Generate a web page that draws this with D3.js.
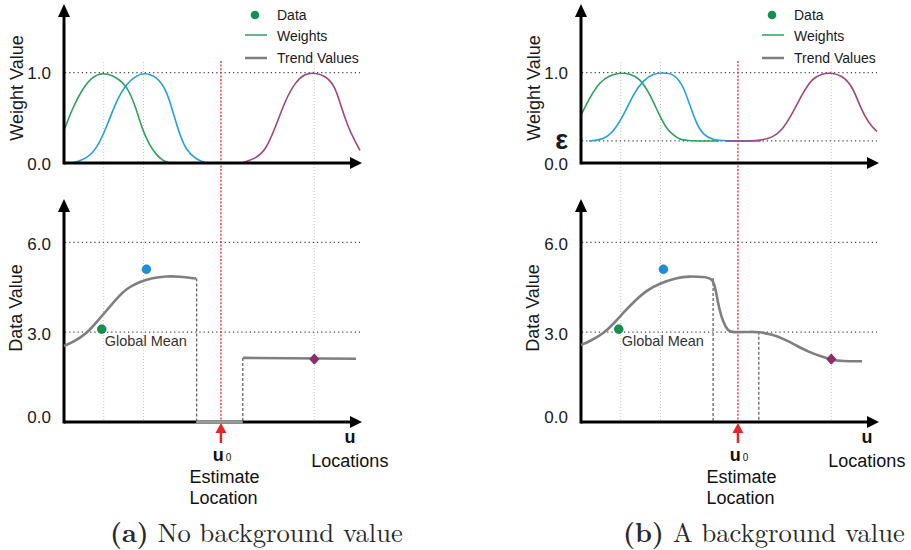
<!DOCTYPE html>
<html>
<head>
<meta charset="utf-8">
<script src="https://cdn.jsdelivr.net/npm/d3@7/dist/d3.min.js"></script>
<style>
  html, body { margin: 0; padding: 0; background: #fff; }
  svg { display: block; }
</style>
</head>
<body>
<svg id="chart" width="911" height="550" font-family="Liberation Sans, Arial, sans-serif"></svg>
<script>
// ---------------- DATA ----------------
const epsilon = 0.244;
const u0 = 158;                         // estimate location
const kernelCenters = [40, 80, 252];    // locations of data (grey guide lines)
const dataU = [38, 83, 252];
const dataV = [3.1, 5.1, 2.1];
const dataColors = ["#12924b", "#1b90d8", "#8e2d6c"];
const curveColors = ["#2ca25c", "#22a0e0", "#a04388"];
const weightTicks = [0, 1];
const dataTicks = [0, 3, 6];

// (a) weights, no background
const greenU_a = [0, 9, 19, 29, 39, 49, 59, 66, 73, 79, 86, 93, 99, 106];
const greenW_a = [0.36, 0.62, 0.83, 0.96, 1.0, 0.97, 0.9, 0.79, 0.59, 0.365, 0.2, 0.09, 0.03, 0];
const blueU_a = [9, 23, 33, 43, 53, 63, 73, 81, 93, 103, 109, 116, 123, 133, 143];
const blueW_a = [0, 0.05, 0.16, 0.4, 0.7, 0.88, 0.97, 1.0, 0.96, 0.81, 0.59, 0.33, 0.14, 0.04, 0];
const purpleU_a = [179, 193, 203, 213, 223, 233, 243, 251, 263, 273, 279, 286, 293, 298];
const purpleW_a = [0, 0.05, 0.14, 0.4, 0.7, 0.9, 0.99, 1.0, 0.97, 0.85, 0.62, 0.4, 0.24, 0.14];

// (b) weights, with background epsilon
const greenU_b = [0, 9, 19, 29, 39, 49, 59, 69, 78, 86, 93, 99, 109, 139];
const greenW_b = [0.53, 0.73, 0.9, 0.97, 1.0, 0.99, 0.94, 0.77, 0.55, 0.38, 0.31, 0.26, 0.244, 0.244];
const blueU_b = [8, 23, 33, 43, 53, 63, 73, 81, 94, 103, 109, 116, 123, 133, 143, 181];
const blueW_b = [0.244, 0.26, 0.35, 0.53, 0.77, 0.92, 0.99, 1.0, 0.99, 0.85, 0.66, 0.44, 0.31, 0.255, 0.244, 0.244];
const purpleU_b = [146, 179, 193, 203, 213, 223, 233, 243, 251, 263, 273, 279, 286, 293, 298];
const purpleW_b = [0.244, 0.244, 0.28, 0.37, 0.55, 0.77, 0.94, 0.99, 1.0, 0.97, 0.85, 0.68, 0.51, 0.4, 0.35];

// (a) trend values
const trendU_a = [0, 9, 23, 33, 43, 53, 63, 76, 89, 103, 116, 133];
const trendV_a = [2.54, 2.66, 2.96, 3.34, 3.73, 4.12, 4.46, 4.68, 4.81, 4.87, 4.86, 4.79];
const stepU_a = [180, 294];
const stepV_a = [2.14, 2.11];
const gapU_a = [133, 180];

// (b) trend values
const trendU_b = [0, 9, 23, 33, 43, 53, 66, 79, 96, 109, 123, 133, 136, 139, 143, 148, 153, 169, 179, 193, 203, 216, 229, 243, 253, 263, 283];
const trendV_b = [2.57, 2.7, 2.96, 3.29, 3.66, 4.01, 4.4, 4.62, 4.81, 4.87, 4.84, 4.81, 4.34, 3.79, 3.34, 3.03, 2.99, 3.01, 3.01, 2.92, 2.79, 2.57, 2.34, 2.18, 2.07, 2.03, 2.03];
const dashU_b = [133, 179];

const legendLabels = ["Data", "Weights", "Trend Values"];
const captions = [["(a)", " No background value"], ["(b)", " A background value"]];

// ---------------- DRAW ----------------
const svg = d3.select("#chart");
const zip = (us, vs) => us.map((u, i) => [u, vs[i]]);

function drawPanel(offsetX, cfg) {
  const g = svg.append("g").attr("transform", `translate(${offsetX},0)`);
  const x = d3.scaleLinear().domain([0, 300]).range([64, 362]);
  const yW = d3.scaleLinear().domain([0, 1]).range([163, 72.7]);
  const yD = d3.scaleLinear().domain([0, 6]).range([422, 242.3]);

  // grey vertical guides at data locations
  g.selectAll(".guide").data(kernelCenters).join("line")
    .attr("x1", d => x(d)).attr("x2", d => x(d))
    .attr("y1", 62).attr("y2", 422)
    .attr("stroke", "#c8c8c8").attr("stroke-width", 1).attr("stroke-dasharray", "1,2");

  // dotted horizontal reference lines
  const topRefs = cfg.eps ? [1, epsilon] : [1];
  g.selectAll(".wref").data(topRefs).join("line")
    .attr("x1", x(1)).attr("x2", x(298))
    .attr("y1", d => yW(d)).attr("y2", d => yW(d))
    .attr("stroke", "#444").attr("stroke-width", 1.2).attr("stroke-dasharray", "1.2,3");
  g.selectAll(".dref").data([3, 6]).join("line")
    .attr("x1", x(1)).attr("x2", x(298))
    .attr("y1", d => yD(d)).attr("y2", d => yD(d))
    .attr("stroke", "#444").attr("stroke-width", 1.2).attr("stroke-dasharray", "1.2,3");

  // red estimate line
  g.append("line").attr("x1", x(u0)).attr("x2", x(u0)).attr("y1", 61).attr("y2", 422)
    .attr("stroke", "#e3262b").attr("stroke-width", 1.3).attr("stroke-dasharray", "2,1.6");

  // weight curves
  const wLine = d3.line().x(d => x(d[0])).y(d => yW(d[1])).curve(d3.curveBasis);
  cfg.weights.forEach((w, i) => {
    g.append("path").attr("d", wLine(zip(w[0], w[1])))
      .attr("fill", "none").attr("stroke", curveColors[i]).attr("stroke-width", 1.6);
  });

  const tLine = d3.line().x(d => x(d[0])).y(d => yD(d[1])).curve(d3.curveBasis);
  cfg.dashes.forEach(dd => {
    g.append("line").attr("x1", x(dd[0])).attr("x2", x(dd[0]))
      .attr("y1", yD(dd[1])).attr("y2", yD(0))
      .attr("stroke", "#666").attr("stroke-width", 1.3).attr("stroke-dasharray", "3,2");
  });

  // axes lines (thick black with arrows)
  const axisStroke = "#000";
  function arrowUp(xp, yTip) {
    g.append("path").attr("d", `M${xp},${yTip} L${xp - 6},${yTip + 13} L${xp + 6},${yTip + 13} Z`).attr("fill", axisStroke);
  }
  function arrowRight(xTip, yp) {
    g.append("path").attr("d", `M${xTip},${yp} L${xTip - 12},${yp - 6} L${xTip - 12},${yp + 6} Z`).attr("fill", axisStroke);
  }
  g.append("line").attr("x1", x(0)).attr("x2", x(0)).attr("y1", yW(0) + 1.5).attr("y2", 14).attr("stroke", axisStroke).attr("stroke-width", 3);
  arrowUp(x(0), 4);
  g.append("line").attr("x1", x(0)).attr("x2", x(300) - 10).attr("y1", yW(0)).attr("y2", yW(0)).attr("stroke", axisStroke).attr("stroke-width", 3);
  arrowRight(x(300), yW(0));
  g.append("line").attr("x1", x(0)).attr("x2", x(0)).attr("y1", yD(0) + 1.5).attr("y2", 210).attr("stroke", axisStroke).attr("stroke-width", 3);
  arrowUp(x(0), 199);
  g.append("line").attr("x1", x(0)).attr("x2", x(300) - 10).attr("y1", yD(0)).attr("y2", yD(0)).attr("stroke", axisStroke).attr("stroke-width", 3);
  arrowRight(x(300), yD(0));

  if (cfg.gap) {
    g.append("line").attr("x1", x(cfg.gap[0])).attr("x2", x(cfg.gap[1]))
      .attr("y1", yD(0)).attr("y2", yD(0)).attr("stroke", "#9a9a9a").attr("stroke-width", 3);
  }

  cfg.trends.forEach(t => {
    g.append("path").attr("d", tLine(zip(t[0], t[1])))
      .attr("fill", "none").attr("stroke", "#7f7f7f").attr("stroke-width", 2.6);
  });

  // data points
  dataU.forEach((u, i) => {
    if (i === 2) {
      g.append("path").attr("d", d3.symbol().type(d3.symbolDiamond).size(30)())
        .attr("transform", `translate(${x(u)},${yD(dataV[i])}) scale(1.35,0.9)`)
        .attr("fill", dataColors[i]).attr("stroke", dataColors[i]).attr("stroke-width", 1.4)
        .attr("stroke-linejoin", "round");
    } else {
      g.append("circle").attr("cx", x(u)).attr("cy", yD(dataV[i])).attr("r", 4.4)
        .attr("fill", dataColors[i]).attr("stroke", i === 0 ? "#0b6e37" : "#1470ad").attr("stroke-width", 0.6);
    }
  });

  g.append("text").attr("x", x(41)).attr("y", 345.5).attr("font-size", 14.5).attr("fill", "#333").text("Global Mean");

  // y tick labels via d3 axes
  const wTickVals = cfg.eps ? [0, epsilon, 1] : weightTicks;
  const axW = g.append("g").attr("transform", `translate(${x(0)},0)`)
    .call(d3.axisLeft(yW).tickValues(wTickVals).tickSize(0).tickPadding(13)
      .tickFormat(d => d === epsilon ? "ε" : d3.format(".1f")(d)));
  axW.select(".domain").remove();
  axW.selectAll("text").attr("font-family", "Liberation Sans, Arial, sans-serif")
    .attr("font-size", 17).attr("fill", "#1a1a1a");
  axW.selectAll("text").filter(d => d === epsilon)
    .attr("font-size", 27).attr("font-weight", "bold").attr("dy", "0.28em");
  axW.selectAll("text").filter(d => d === 0).attr("dy", "0.38em");

  const axD = g.append("g").attr("transform", `translate(${x(0)},0)`)
    .call(d3.axisLeft(yD).tickValues(dataTicks).tickSize(0).tickPadding(13).tickFormat(d3.format(".1f")));
  axD.select(".domain").remove();
  axD.selectAll("text").attr("font-family", "Liberation Sans, Arial, sans-serif")
    .attr("font-size", 17).attr("fill", "#1a1a1a");
  axD.selectAll("text").filter(d => d === 0).attr("dy", "0.05em");
  axD.selectAll("text").filter(d => d !== 0).attr("dy", "0.45em");

  g.append("text").attr("transform", "translate(22.5,88) rotate(-90)")
    .attr("text-anchor", "middle").attr("font-size", 18).attr("fill", "#1a1a1a").text("Weight Value");
  g.append("text").attr("transform", "translate(21.5,308) rotate(-90)")
    .attr("text-anchor", "middle").attr("font-size", 18).attr("fill", "#1a1a1a").text("Data Value");

  g.append("text").attr("x", x(288)).attr("y", 443).attr("text-anchor", "middle")
    .attr("font-size", 18).attr("font-weight", "bold").attr("fill", "#111").text("u");
  g.append("text").attr("x", x(249)).attr("y", 466.5)
    .attr("font-size", 18).attr("fill", "#111").text("Locations");

  // estimate arrow
  g.append("line").attr("x1", x(u0)).attr("x2", x(u0)).attr("y1", 430).attr("y2", 443)
    .attr("stroke", "#e3262b").attr("stroke-width", 2.5);
  g.append("path").attr("d", `M${x(u0)},${yD(0) + 1} L${x(u0) - 5.5},${yD(0) + 11} L${x(u0) + 5.5},${yD(0) + 11} Z`)
    .attr("fill", "#e3262b");

  const u0t = g.append("text").attr("x", x(u0) + 1).attr("y", 461).attr("text-anchor", "middle").attr("fill", "#111");
  u0t.append("tspan").attr("font-size", 18).attr("font-weight", "bold").text("u");
  u0t.append("tspan").attr("font-size", 10).attr("dx", 2).text("0");
  g.append("text").attr("x", x(u0) + 3.5).attr("y", 482.5).attr("text-anchor", "middle")
    .attr("font-size", 18).attr("fill", "#111").text("Estimate");
  g.append("text").attr("x", x(u0) + 2.5).attr("y", 503.5).attr("text-anchor", "middle")
    .attr("font-size", 18).attr("fill", "#111").text("Location");

  // legend
  const lg = g.append("g");
  lg.append("circle").attr("cx", 255).attr("cy", 15).attr("r", 4.3).attr("fill", dataColors[0]);
  lg.append("line").attr("x1", 245).attr("x2", 267).attr("y1", 35).attr("y2", 35).attr("stroke", curveColors[0]).attr("stroke-width", 1.5);
  lg.append("line").attr("x1", 245).attr("x2", 267).attr("y1", 58).attr("y2", 58).attr("stroke", "#7f7f7f").attr("stroke-width", 2.5);
  lg.selectAll(".lt").data(legendLabels).join("text")
    .attr("x", 277).attr("y", (d, i) => [19.5, 40.5, 63][i])
    .attr("font-size", 14).attr("fill", "#1a1a1a").text(d => d);

  // caption (serif)
  const cap = g.append("text").attr("x", cfg.capX).attr("y", 541.5)
    .attr("font-family", "Latin Modern Roman, DejaVu Serif, Liberation Serif, serif")
    .attr("font-size", 22).attr("fill", "#2a2a2a");
  cap.append("tspan").attr("font-weight", "bold").text(cfg.caption[0]);
  cap.append("tspan").text(cfg.caption[1]);
  const w = cap.node().getComputedTextLength();
  cap.attr("font-size", 22 * cfg.capW / w);
}

drawPanel(0, {
  eps: false,
  weights: [[greenU_a, greenW_a], [blueU_a, blueW_a], [purpleU_a, purpleW_a]],
  trends: [[trendU_a, trendV_a], [stepU_a, stepV_a]],
  dashes: [[133.5, 4.79], [180, 2.14]],
  gap: gapU_a,
  caption: captions[0], capX: 110, capW: 293
});
drawPanel(517, {
  eps: true,
  weights: [[greenU_b, greenW_b], [blueU_b, blueW_b], [purpleU_b, purpleW_b]],
  trends: [[trendU_b, trendV_b]],
  dashes: [[dashU_b[0], 4.81], [dashU_b[1], 3.01]],
  gap: null,
  caption: captions[1], capX: 106, capW: 282
});
</script>
</body>
</html>
